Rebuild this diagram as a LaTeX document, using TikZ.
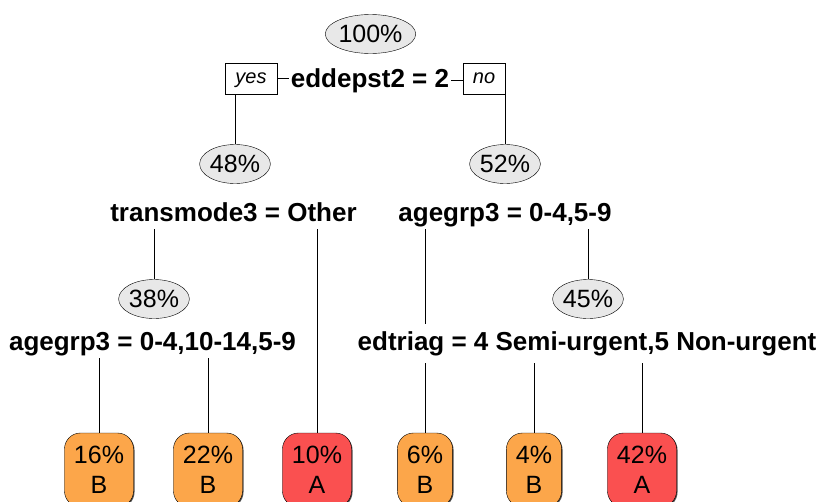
\documentclass[tikz,border=0pt]{standalone}
\usepackage{fontspec}
\setmainfont{Liberation Sans}
\usetikzlibrary{shapes.geometric,shadows,backgrounds}
\definecolor{ellfill}{RGB}{232,232,232}
\definecolor{leafB}{RGB}{252,166,74}
\definecolor{leafA}{RGB}{250,80,80}
\begin{document}
\begin{tikzpicture}[x=1pt,y=-1pt,
  pct/.style={ellipse,draw,fill=ellfill,inner sep=0pt,minimum height=39pt,font=\fontsize{25}{30}\selectfont},
  splitlab/.style={fill=white,inner xsep=2pt,inner ysep=3pt,text height=18pt,text depth=5pt,anchor=base,font=\bfseries\fontsize{26}{30}\selectfont},
  yn/.style={draw,fill=white,minimum height=31pt,inner sep=0pt,text height=14pt,text depth=4pt,font=\itshape\fontsize{20}{24}\selectfont,
    drop shadow={shadow xshift=1.2pt,shadow yshift=-1.2pt,fill=black!80,opacity=1}},
  leaf/.style={draw,rounded corners=16pt,align=center,minimum height=74pt,inner xsep=9.5pt,
    font=\fontsize{25}{30}\selectfont,
    drop shadow={shadow xshift=1pt,shadow yshift=-1pt,fill=black!70,opacity=1}},
  edge/.style={line width=0.9pt}
]
\useasboundingbox (0,0) rectangle (821,501);
\clip (0,0) rectangle (821,501);

% root
\node[pct] (n100) at (370.5,34) {100\%};
\node[splitlab] (root) at (370,87) {eddepst2 = 2};
\node[yn,minimum width=52pt] (yes) at (251,78.5) {yes};
\node[yn,minimum width=42pt] (no) at (484,78.5) {no};

% level 1
\node[pct] (n48) at (235,164) {48\%};
\node[pct] (n52) at (505,164) {52\%};
\node[splitlab] (s48) at (233.5,221) {transmode3 = Other};
\node[splitlab] (s52) at (505,221) {agegrp3 = 0-4,5-9};

% level 2
\node[pct] (n38) at (154,299) {38\%};
\node[pct] (n45) at (588,299) {45\%};
\node[splitlab] (s38) at (152.5,350) {agegrp3 = 0-4,10-14,5-9};
\node[splitlab,inner ysep=8pt] (s45) at (587,350) {edtriag = 4 Semi-urgent,5 Non-urgent};

% leaves
\node[leaf,fill=leafB] (l16) at (99,470) {16\%\\B};
\node[leaf,fill=leafB] (l22) at (208,470) {22\%\\B};
\node[leaf,fill=leafA] (l10) at (317,470) {10\%\\A};
\node[leaf,fill=leafB] (l6) at (425,470) {6\%\\B};
\node[leaf,fill=leafB] (l4) at (534,470) {4\%\\B};
\node[leaf,fill=leafA] (l42) at (642,470) {42\%\\A};

\begin{pgfonlayer}{background}
\draw[edge] (yes.east) -- (yes.east -| root.west);
\draw[edge] (root.east) -- (root.east -| no.west);
\draw[edge] (yes.south -| n48.north) -- (n48.north);
\draw[edge] (no.south -| n52.north) -- (n52.north);
\draw[edge] (s48.south -| n38.north) -- (n38.north);
\draw[edge] (s48.south -| l10.north) -- (l10.north);
\draw[edge] (s52.south -| l6.north) -- (l6.north);
\draw[edge] (s52.south -| n45.north) -- (n45.north);
\draw[edge] (s38.south -| l16.north) -- (l16.north);
\draw[edge] (s38.south -| l22.north) -- (l22.north);
\draw[edge] (s45.south -| l4.north) -- (l4.north);
\draw[edge] (s45.south -| l42.north) -- (l42.north);
\end{pgfonlayer}
\end{tikzpicture}
\end{document}
